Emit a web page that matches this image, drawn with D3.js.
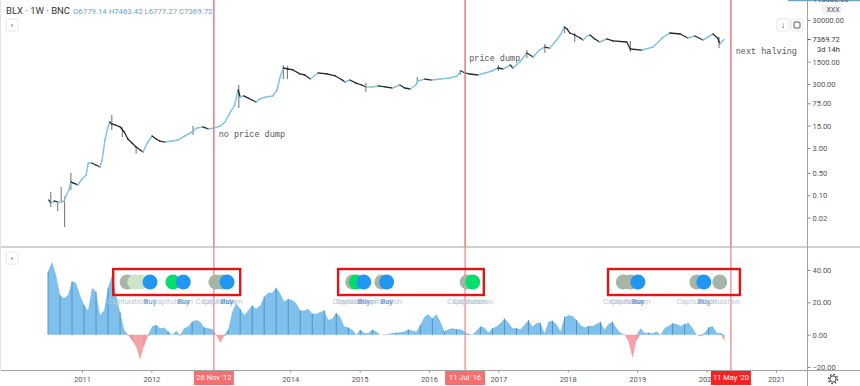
<!DOCTYPE html>
<html>
<head>
<meta charset="utf-8">
<script src="https://cdn.jsdelivr.net/npm/d3@7"></script>
<style>
html,body{margin:0;padding:0;background:#fff}
svg{display:block}
text{font-family:Roboto,sans-serif}
</style>
</head>
<body>
<svg id="chart" width="860" height="386"></svg>
<script>
// weekly BLX closes (year, price)
var priceYears = [2010.52,2010.55,2010.60,2010.65,2010.71,2010.74,2010.77,2010.81,2010.84,2010.87,2010.91,2010.94,2011.00,2011.06,2011.09,2011.14,2011.20,2011.26,2011.29,2011.33,2011.37,2011.40,2011.43,2011.48,2011.55,2011.61,2011.66,2011.72,2011.78,2011.84,2011.88,2011.94,2012.01,2012.07,2012.12,2012.20,2012.30,2012.38,2012.48,2012.56,2012.60,2012.66,2012.74,2012.82,2012.90,2012.99,2013.06,2013.13,2013.20,2013.25,2013.28,2013.33,2013.39,2013.45,2013.51,2013.56,2013.65,2013.75,2013.81,2013.85,2013.90,2013.97,2014.04,2014.14,2014.21,2014.29,2014.40,2014.54,2014.65,2014.75,2014.79,2014.86,2014.95,2015.03,2015.09,2015.18,2015.27,2015.37,2015.47,2015.58,2015.65,2015.73,2015.81,2015.84,2015.94,2016.04,2016.16,2016.30,2016.40,2016.46,2016.52,2016.59,2016.71,2016.81,2016.91,2016.99,2017.07,2017.17,2017.21,2017.31,2017.41,2017.50,2017.59,2017.67,2017.74,2017.84,2017.90,2017.95,2017.99,2018.03,2018.10,2018.18,2018.22,2018.28,2018.32,2018.39,2018.46,2018.56,2018.65,2018.85,2018.90,2019.07,2019.23,2019.36,2019.47,2019.62,2019.73,2019.83,2019.95,2020.09,2020.16,2020.19,2020.25];
var priceClose = [0.071,0.057,0.066,0.0615,0.0615,0.066,0.095,0.146,0.26,0.242,0.225,0.209,0.321,0.43,1.02,1.02,0.88,0.765,1.27,5.3,12.7,19.5,16.9,15.7,13.6,9.5,5.7,4.3,3.2,2.6,2.25,4.3,7.1,5.7,4.95,4.6,4.95,5.3,7.1,8.8,10.2,12.7,13.6,11.8,12.7,14.6,19.5,37,66,195,118,127,110,95,82,102,118,127,195,462,948,882,822,620,573,429,663,615,534,399,345,399,321,279,242,242,260,242,225,279,225,209,279,372,429,399,429,462,534,765,663,615,573,663,765,948,882,1176,948,1461,2793,2094,3450,4290,3990,7110,10950,18120,15690,11760,10200,8220,7110,9480,10200,7650,6150,7650,6630,6150,3720,3450,4290,8220,11760,10950,8220,9480,7110,10950,8220,5340,7369.72];

// the wicks that stand out
var wickYears = [2010.55,2010.65,2010.70,2010.75,2010.84,2011.43,2011.58,2011.78,2012.60,2013.26,2013.90,2013.96,2015.09,2015.83,2016.45,2017.00,2017.41,2017.67,2017.95,2018.10,2018.90,2020.18];
var wickHigh = [0.127,0.066,0.18,0.09,0.5,32,13.6,3.2,14.6,279,1176,1095,321,496,822,1176,3450,5340,19470,11760,6630,8820];
var wickLow = [0.043,0.032,0.06,0.0102,0.146,10.95,6.6,2.0,7.65,53,429,429,169,321,573,765,1950,2793,11760,6150,3000,3990];

// indicator histogram, one sample every 3 weeks from histStart
var histStart = 2010.51;
var histStepWeeks = 3;
var histValues = [39,45,37,24.5,22.5,24.5,33,32,24.5,18.5,15,29,26.5,12,15,29,37,24.5,14,3,-0.5,-3.5,-7.5,-15.5,-6.5,-1,5,6,4,4.5,2,0,2.5,-0.5,4,5,8,9,8,4.5,4,3.5,-0.2,-5,-1,3,14,19.5,16,12,15,18,16,18,23.5,26,26,29,25.5,20.5,22,21.5,19.5,15,15,16,13,13,14,15,9,10,13.5,11,5,4.5,3,0,3,1,1,3,2,0,-0.3,0.4,1,1.2,1.5,2,3.2,2.5,2,6,11,12.7,10,12.7,8,2,3.3,4,3.3,3.3,2,0.4,-0.2,2.4,5,4.5,1.2,4,5,7,10,7.4,4,4,3.3,6,9,5,7,7.4,0.8,8,8.6,6.5,2,11,12,11.5,9,6,4.5,5.4,5.4,6.6,8,3,6.6,8,4,1.2,-0.2,-4.3,-14.6,-3.3,4,1.2,1.2,0.8,2,0,4,5.4,7,6.6,5.4,6.6,7.4,4,0,-1.2,1.2,4.5,5.4,1.2,0.8,-3.7];

var yearTicks = [2011,2012,2013,2014,2015,2016,2017,2018,2019,2020,2021];
var priceTicks = [30000,1500,300,75,15,3,0.5,0.1,0.02];
var indicatorTicks = [40,20,0,-20];
var lastPrice = 7369.72;

var signalYears = [2011.65,2011.76,2011.84,2011.98,2012.31,2012.46,2012.93,2013.02,2013.09,2014.90,2014.95,2015.06,2015.32,2015.39,2016.55,2016.63,2018.80,2018.90,2019.01,2019.86,2019.96,2020.19];
var signalKinds = ['cap','pale','pale','buy','green','buy','cap','cap','buy','cap','green','buy','cap','buy','cap','green','cap','cap','buy','cap','buy','cap'];

var halvingYears = [2012.90,2016.52,2020.35];
var halvingLabels = ["26 Nov '12","11 Jul '16","11 May '20"];
var halvingFills = ['#f46f6f','#f46f6f','#f52222'];
var boxStart = [2011.45,2014.69,2018.58];
var boxEnd = [2013.28,2016.79,2020.48];
var noteTexts = ['no price dump','price dump','next halving'];
var noteYears = [2012.97,2016.58,2020.42];
var notePrices = [8.3,1900,3100];

var svg = d3.select('#chart');

var x = d3.scaleLinear().domain([2011,2021]).range([82,776]);
var yPrice = d3.scaleLog().domain([30000,0.02]).range([20,217.6]);
var yInd = d3.scaleLinear().domain([40,-20]).range([270,367]);

// frame
svg.append('line').attr('x1',0).attr('x2',860).attr('y1',247).attr('y2',247).attr('stroke','#a3a3a3');
svg.append('line').attr('x1',0).attr('x2',860).attr('y1',370.5).attr('y2',370.5).attr('stroke','#a3a3a3');
svg.append('line').attr('x1',807.5).attr('x2',807.5).attr('y1',0).attr('y2',386).attr('stroke','#a3a3a3');
svg.append('line').attr('x1',0.5).attr('x2',0.5).attr('y1',0).attr('y2',371).attr('stroke','#e3e3e3');
svg.append('line').attr('x1',788).attr('x2',860).attr('y1',0.5).attr('y2',0.5).attr('stroke','#6fa6c6').attr('stroke-width',1.5);

// histogram, the samples joined up so it reads like the weekly bars
var histYear = function(i){ return histStart + i*histStepWeeks/52; };
var histArea = function(clamp){
	return d3.area()
		.x(function(d,i){ return x(histYear(i)); })
		.y0(yInd(0))
		.y1(function(d){ return yInd(clamp(d)); });
};
svg.append('path').datum(histValues)
	.attr('fill','#80c0ec')
	.attr('d',histArea(function(d){ return Math.max(d,0); }));
svg.append('path').datum(histValues)
	.attr('fill','#f4a3a8')
	.attr('d',histArea(function(d){ return Math.min(d,0); }));
// darker bars every third sample
svg.append('g').selectAll('line')
	.data(histValues)
	.enter().append('line')
	.filter(function(d,i){ return i%3==0; })
	.attr('x1',function(d,i){ return x(histYear(i*3)); })
	.attr('x2',function(d,i){ return x(histYear(i*3)); })
	.attr('y1',function(d){ return yInd(d); })
	.attr('y2',yInd(0))
	.attr('stroke',function(d){ return d<0 ? '#e8878d' : '#4a8fbe'; })
	.attr('stroke-width',0.9);

// price
var wicks = svg.append('g');
wickYears.forEach(function(yr,i){
	wicks.append('line')
		.attr('x1',x(yr)).attr('x2',x(yr))
		.attr('y1',yPrice(wickHigh[i])).attr('y2',yPrice(wickLow[i]))
		.attr('stroke','#4a4a4a').attr('stroke-width',0.8);
});
var candles = svg.append('g').attr('fill','none').attr('stroke-linecap','round');
priceYears.forEach(function(yr,i){
	if(i==0) return;
	var up = priceClose[i]>=priceClose[i-1];
	candles.append('line')
		.attr('x1',x(priceYears[i-1])).attr('x2',x(yr))
		.attr('y1',yPrice(priceClose[i-1])).attr('y2',yPrice(priceClose[i]))
		.attr('stroke',up ? '#86c3de' : '#2a2a2a')
		.attr('stroke-width',up ? 1.5 : 1.3);
});

// halving lines
halvingYears.forEach(function(yr){
	svg.append('line').attr('x1',x(yr)).attr('x2',x(yr)).attr('y1',0).attr('y2',247)
		.attr('stroke','#e58387').attr('stroke-width',1.6);
	svg.append('line').attr('x1',x(yr)).attr('x2',x(yr)).attr('y1',247).attr('y2',371)
		.attr('stroke','#ee8286').attr('stroke-width',1.2);
});

// notes
noteTexts.forEach(function(t,i){
	svg.append('text').attr('x',x(noteYears[i])).attr('y',yPrice(notePrices[i]))
		.attr('dy','0.32em')
		.style('font-family','"Liberation Mono",monospace').style('font-size','8.5px')
		.attr('fill','#555').text(t);
});

// signals
var signalFill = {cap:'#a6b5a6',green:'#00de6c',buy:'#2196f3',pale:'#cfe3c8'};
var sig = svg.append('g');
signalYears.forEach(function(yr,i){
	sig.append('circle').attr('cx',x(yr)).attr('cy',282).attr('r',7.5).attr('fill',signalFill[signalKinds[i]]);
});
signalYears.forEach(function(yr,i){
	var k = signalKinds[i];
	if(k=='pale') return;
	sig.append('text').attr('x',x(yr)).attr('y',304).attr('text-anchor','middle')
		.style('font-size','7.5px')
		.attr('fill',k=='buy' ? '#3d90dc' : '#b9c8d6')
		.text(k=='buy' ? 'Buy' : 'Capitulation');
});

// red boxes
boxStart.forEach(function(b,i){
	svg.append('rect').attr('x',x(b)).attr('y',269)
		.attr('width',x(boxEnd[i])-x(b)).attr('height',26)
		.attr('fill','none').attr('stroke','#e21414').attr('stroke-width',2.4);
});

// axes
var axisBottom = d3.axisBottom(x).tickValues(yearTicks).tickFormat(d3.format('d')).tickSize(2).tickSizeOuter(0);
var gx = svg.append('g').attr('transform','translate(0,370.5)').call(axisBottom);
var axisPrice = d3.axisRight(yPrice).tickValues(priceTicks).tickFormat(d3.format('.2f')).tickSize(3);
var gp = svg.append('g').attr('transform','translate(807.5,0)').call(axisPrice);
var axisInd = d3.axisRight(yInd).tickValues(indicatorTicks).tickFormat(d3.format('.2f')).tickSize(3);
var gi = svg.append('g').attr('transform','translate(807.5,0)').call(axisInd);
[gx,gp,gi].forEach(function(g){
	g.select('.domain').remove();
	g.selectAll('line').attr('stroke','#888');
	g.selectAll('text').style('font-size','7.5px').attr('fill','#555');
});
gi.selectAll('text').attr('x',5);
gp.selectAll('text').attr('x',5);
gx.selectAll('text').attr('y',6);

// date labels on the time axis
halvingYears.forEach(function(yr,i){
	svg.append('rect').attr('x',x(yr)-20).attr('y',371).attr('width',40).attr('height',14).attr('fill',halvingFills[i]);
	svg.append('text').attr('x',x(yr)).attr('y',378).attr('dy','0.32em').attr('text-anchor','middle')
		.style('font-size','7.5px').attr('fill','#fff').text(halvingLabels[i]);
});

// last price + countdown
svg.append('line').attr('x1',807.5).attr('x2',810.5).attr('y1',yPrice(lastPrice)).attr('y2',yPrice(lastPrice)).attr('stroke','#555');
svg.append('text').attr('x',812.5).attr('y',yPrice(lastPrice)).attr('dy','0.32em').style('font-size','7.5px').attr('fill','#333').text(lastPrice.toFixed(2));
svg.append('text').attr('x',817).attr('y',50).attr('dy','0.32em').style('font-size','7.5px').attr('fill','#333').text('3d 14h');
svg.append('text').attr('x',813).attr('y',2).style('font-size','7.5px').attr('fill','#555').text('110000.00');
svg.append('rect').attr('x',822).attr('y',5).attr('width',20).attr('height',9).attr('fill','#f1f3f5');
svg.append('text').attr('x',833).attr('y',10).attr('dy','0.32em').attr('text-anchor','middle').style('font-size','7px').attr('fill','#555').text('XXX');

// header
svg.append('text').attr('x',6).attr('y',14).style('font-size','9.5px').attr('fill','#333').text('BLX · 1W · BNC');
svg.append('text').attr('x',73).attr('y',14).style('font-size','7.8px').attr('fill','#62a6c8').text('O6779.14 H7463.42 L6777.27 C7369.72');

// small buttons
function button(bx,by,label){
	svg.append('rect').attr('x',bx).attr('y',by).attr('width',12).attr('height',12).attr('rx',1.5)
		.attr('fill','#fff').attr('stroke','#e6e6e6');
	svg.append('text').attr('x',bx+6).attr('y',by+6).attr('dy','0.32em').attr('text-anchor','middle')
		.style('font-size','8px').attr('fill','#333').text(label);
}
button(6,19,'›');
button(6,252,'›');
button(777,19,'↓');
button(791,19,'');
svg.append('rect').attr('x',794).attr('y',22).attr('width',6).attr('height',6).attr('rx',1)
	.attr('fill','none').attr('stroke','#444').attr('stroke-width',0.9);

// settings gear
svg.append('circle').attr('cx',833).attr('cy',379).attr('r',3.2).attr('fill','none').attr('stroke','#333').attr('stroke-width',1);
svg.append('circle').attr('cx',833).attr('cy',379).attr('r',4.6).attr('fill','none').attr('stroke','#333')
	.attr('stroke-width',1.2).attr('stroke-dasharray','1.5 2.1');
</script>
</body>
</html>
